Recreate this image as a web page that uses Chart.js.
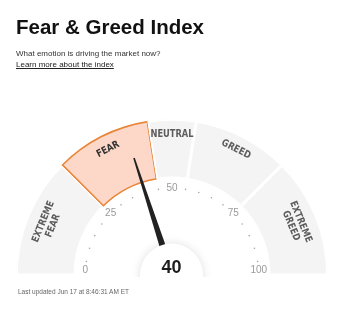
<!DOCTYPE html>
<html>
<head>
<meta charset="utf-8">
<script src="https://cdn.jsdelivr.net/npm/chart.js@4/dist/chart.umd.min.js"></script>
<style>
  body { margin: 0; background: #fff; font-family: "Liberation Sans", Arial, sans-serif; }
  #wrap { position: relative; width: 340px; height: 314px; overflow: hidden; }
  #gauge { position: absolute; left: 0; top: 0; }
  .txt { position: absolute; white-space: nowrap; line-height: 1; margin: 0; }
  #title { left: 16px; top: 16.6px; font-size: 20.5px; font-weight: bold; color: #111; }
  #sub { left: 16px; top: 50px; font-size: 8px; color: #333; }
  #learn { left: 16px; top: 61px; font-size: 8px; color: #222; text-decoration: underline; }
  #updated { left: 18px; top: 288.5px; font-size: 6.5px; color: #666; }
</style>
</head>
<body>
<div id="wrap">
  <canvas id="gauge" width="340" height="314"></canvas>
  <h1 class="txt" id="title">Fear &amp; Greed Index</h1>
  <div class="txt" id="sub">What emotion is driving the market now?</div>
  <div class="txt" id="learn">Learn more about the index</div>
  <div class="txt" id="updated">Last updated Jun 17 at 8:46:31 AM ET</div>
</div>
<script>
// zones of the index, 0..100
const zoneNames = [["EXTREME", "FEAR"], ["FEAR"], ["NEUTRAL"], ["GREED"], ["EXTREME", "GREED"]];
const zoneSizes = [25, 20, 10, 20, 25];
const tickLabels = [0, 25, 50, 75, 100];
const tickStep = 5;
const score = 40;
const activeZone = 1;

const grey = "#f4f4f4";
const fills = zoneSizes.map((s, i) => i === activeZone ? "#fdd8c9" : grey);
const borders = zoneSizes.map((s, i) => i === activeZone ? "#e8873a" : "#ffffff");
const borderW = zoneSizes.map((s, i) => i === activeZone ? 1.2 : 1.5);

function valueAngle(v) {
  return Math.PI + v / 100 * Math.PI;
}

const gaugeParts = {
  id: "gaugeParts",
  afterDatasetsDraw(chart) {
    const ctx = chart.ctx;
    const arcs = chart.getDatasetMeta(0).data;
    const cx = arcs[0].x, cy = arcs[0].y;
    const inner = arcs[0].innerRadius;

    // dots + numbers
    const rt = inner - 10;
    ctx.save();
    for (let v = 0; v <= 100; v += tickStep) {
      const a = valueAngle(v);
      let x = cx + Math.cos(a) * rt;
      let y = cy + Math.sin(a) * rt;
      if (tickLabels.includes(v)) {
        if (y > cy - 4.5) y = cy - 4.5;
        ctx.fillStyle = "#9a9a9a";
        ctx.font = "10px 'Liberation Sans', Arial, sans-serif";
        ctx.textAlign = "center";
        ctx.textBaseline = "middle";
        ctx.fillText(String(v), x, y);
      } else {
        ctx.fillStyle = "#a5a5a5";
        ctx.beginPath();
        ctx.arc(x, y, 0.8, 0, Math.PI * 2);
        ctx.fill();
      }
    }
    ctx.restore();

    // zone names
    arcs.forEach((arc, i) => {
      const mid = (arc.startAngle + arc.endAngle) / 2;
      const lines = zoneNames[i];
      const rc = lines.length > 1 ? 134 : 141;
      ctx.save();
      ctx.translate(cx + Math.cos(mid) * rc, cy + Math.sin(mid) * rc);
      ctx.rotate(mid + Math.PI / 2);
      ctx.scale(0.83, 1);
      ctx.fillStyle = i === activeZone ? "#333" : "#5c5c5c";
      ctx.font = "bold 10px 'DejaVu Sans', sans-serif";
      ctx.textAlign = "center";
      ctx.textBaseline = "middle";
      lines.forEach((t, k) => {
        ctx.fillText(t, 0, (k - (lines.length - 1) / 2) * 10.5);
      });
      ctx.restore();
    });

    // needle
    const a = valueAngle(score);
    const tip = 123;
    const ux = Math.cos(a), uy = Math.sin(a);
    const px = -uy, py = ux;
    ctx.save();
    ctx.fillStyle = "#222";
    ctx.beginPath();
    ctx.moveTo(cx + px * 3.8, cy + py * 3.8);
    ctx.lineTo(cx + ux * tip + px * 0.8, cy + uy * tip + py * 0.8);
    ctx.lineTo(cx + ux * tip - px * 0.8, cy + uy * tip - py * 0.8);
    ctx.lineTo(cx - px * 3.8, cy - py * 3.8);
    ctx.closePath();
    ctx.fill();
    ctx.restore();

    // centre disc with value
    ctx.save();
    ctx.beginPath();
    ctx.rect(0, 0, chart.width, cy + 2);
    ctx.clip();
    ctx.shadowColor = "rgba(0,0,0,0.13)";
    ctx.shadowBlur = 10;
    ctx.fillStyle = "#fff";
    ctx.beginPath();
    ctx.arc(cx - 0.5, cy, 31.5, 0, Math.PI * 2);
    ctx.fill();
    ctx.restore();

    ctx.save();
    ctx.fillStyle = "#1e1e1e";
    ctx.font = "bold 18px 'Liberation Sans', Arial, sans-serif";
    ctx.textAlign = "center";
    ctx.textBaseline = "alphabetic";
    ctx.fillText(String(score), cx - 0.5, cy - 2);
    ctx.restore();
  }
};

new Chart(document.getElementById("gauge"), {
  type: "doughnut",
  data: {
    labels: zoneNames.map(n => n.join(" ")),
    datasets: [{
      data: zoneSizes,
      backgroundColor: fills,
      borderColor: borders,
      borderWidth: borderW,
      borderAlign: "inner"
    }]
  },
  options: {
    responsive: false,
    animation: false,
    rotation: -90,
    circumference: 180,
    radius: 156,
    cutout: "62%",
    layout: { padding: { left: 16, right: 12, top: 119, bottom: 39 } },
    plugins: {
      legend: { display: false },
      tooltip: { enabled: false }
    }
  },
  plugins: [gaugeParts]
});
</script>
</body>
</html>
